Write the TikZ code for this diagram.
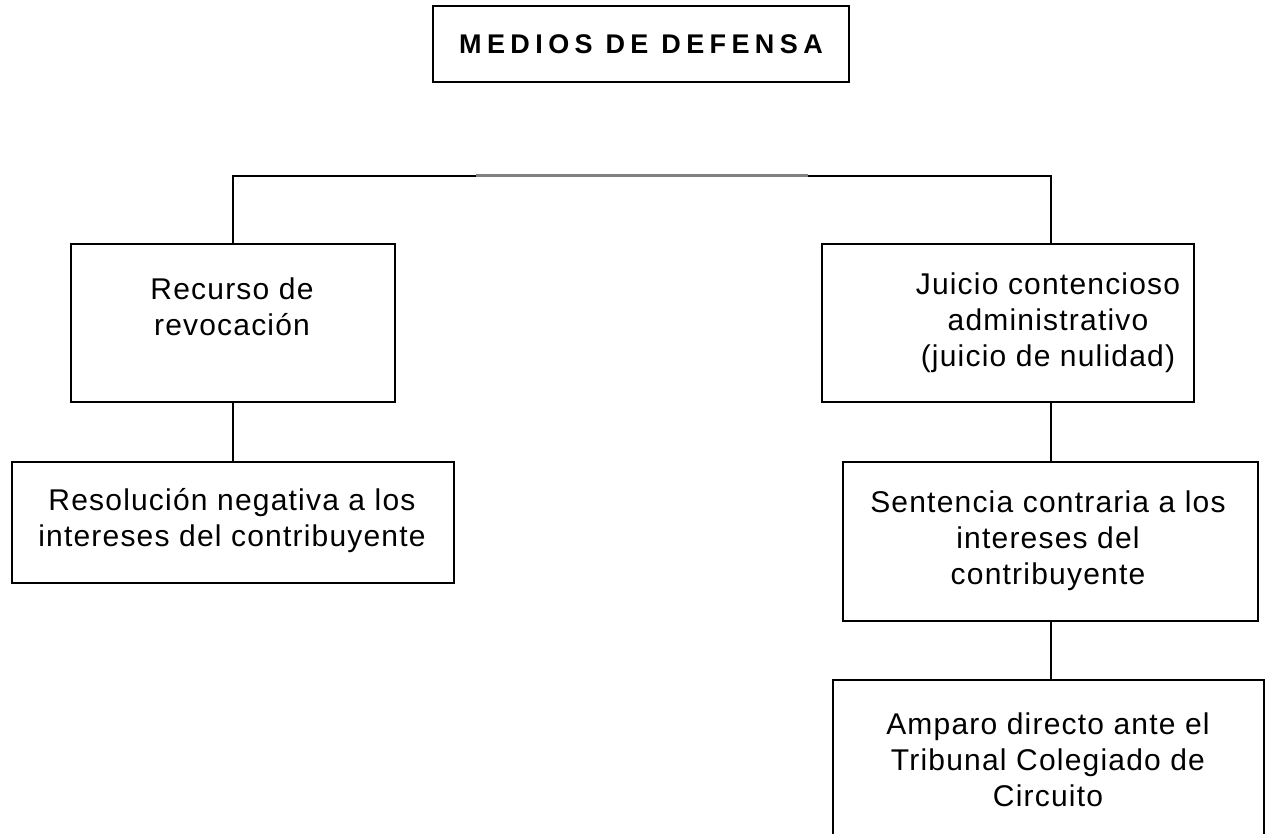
\documentclass[tikz,border=0pt]{standalone}
\usepackage{fontspec}
\setmainfont{Liberation Sans}[LetterSpace=4]
\newfontfamily\titlefont{Liberation Sans Bold}[LetterSpace=20]
\usetikzlibrary{positioning}

\tikzset{
    box/.style={draw=black, line width=1pt, rectangle, inner sep=0pt},
    txt/.style={align=center, font=\fontsize{15}{18}\selectfont},
    conn/.style={black, line width=1pt},
}

\begin{document}
\begin{tikzpicture}[x=0.5pt, y=-0.5pt]
    \useasboundingbox (0,0) rectangle (1282,834);
    \clip (0,0) rectangle (1282,834);
    % titulo
    \node[box, minimum width=208pt, minimum height=38pt] (titulo) at (641,44) {\titlefont\fontsize{13.5}{16}\selectfont MEDIOS DE DEFENSA};
    % cajas
    \node[box, minimum width=162pt, minimum height=79pt] (rec) at (233,323) {};
    \node[box, minimum width=186pt, minimum height=79pt] (jui) at (1008,323) {};
    \node[box, minimum width=221pt, minimum height=60.5pt] (res) at (233,522.5) {};
    \node[box, minimum width=207.5pt, minimum height=79.5pt] (sen) at (1050.5,541.5) {};
    \node[box, minimum width=215.5pt, minimum height=90pt] (amp) at (1048.5,770) {};
    % textos
    \node[txt] (rectxt) at (232,307) {Recurso de\\revocación};
    \node[txt] (juitxt) at (1048,323) {Juicio contencioso\\administrativo\\(juicio de nulidad)};
    \node[txt] (restxt) at (232,521) {Resolución negativa a los\\intereses del contribuyente};
    \node[txt] (sentxt) at (1048,541) {Sentencia contraria a los\\intereses del\\contribuyente};
    \node[txt] (amptxt) at (1048,760) {Amparo directo ante el\\Tribunal Colegiado de\\Circuito};
    % conectores
    \coordinate (gL) at (476,176);
    \coordinate (gR) at (808,176);
    \draw[conn] (rec.north) |- (gL);
    \draw[conn, gray, line width=1.5pt] (gL) -- (gR);
    \draw[conn] (gR) -| (sen.north |- jui.north);
    \draw[conn] (rec) -- (res);
    \draw[conn] (sen.north |- jui.south) -- (sen.north);
    \draw[conn] (sen.south) -- (sen.south |- amp.north);
\end{tikzpicture}
\end{document}
